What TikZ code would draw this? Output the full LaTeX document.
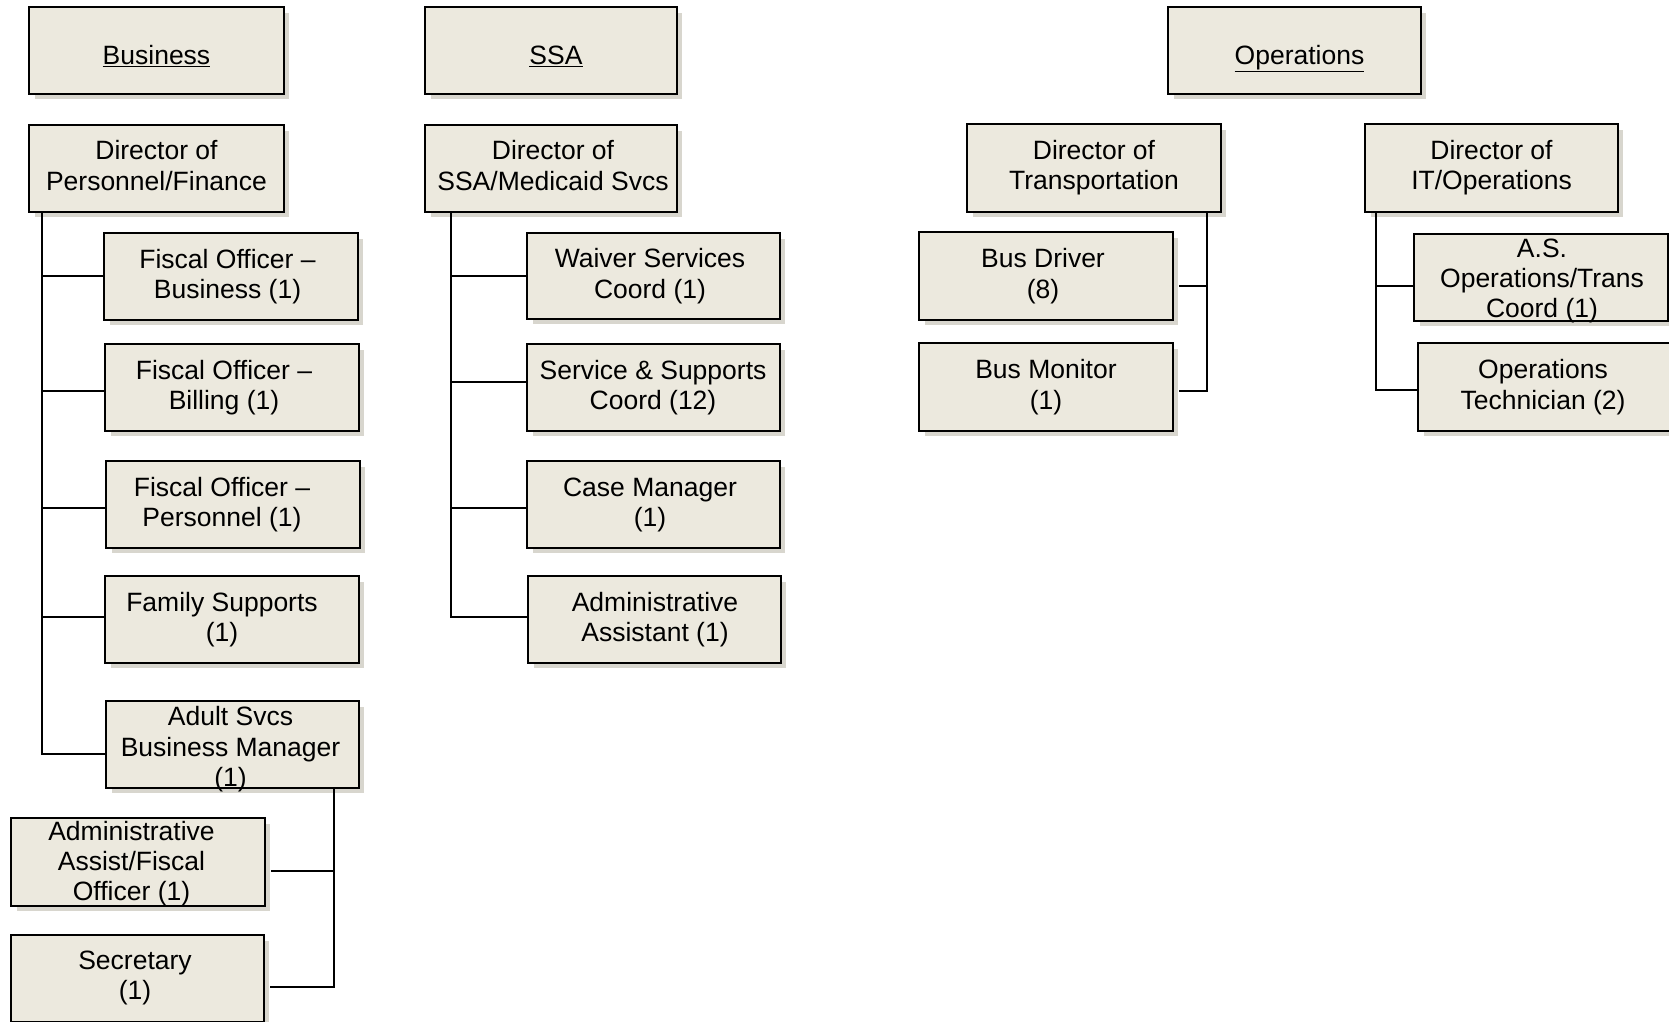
\documentclass[tikz,border=0pt]{standalone}
\usepackage{fontspec}
\setmainfont{Liberation Sans}
\definecolor{boxfill}{RGB}{236,233,222}
\definecolor{shadowc}{RGB}{216,214,206}
\tikzset{
  orgbox/.style={draw=black, line width=2.2pt, fill=boxfill, inner sep=0pt},
  orgtxt/.style={font=\fontsize{26.5}{30.2}\selectfont, align=center, inner sep=0pt,
    execute at begin node=\strut, execute at end node=\strut},
  link/.style={draw=black, line width=2.5pt, line join=miter}
}
\newcommand\obox[7]{% name, x1, y1, x2, y2, text shift options, text
  \fill[shadowc] (#2+6,#3+6) rectangle (#4+5,#5+5);
  \node[orgbox, minimum width={(#4)-(#2)}, minimum height={(#5)-(#3)}] (#1) at ({((#2)+(#4))/2},{((#3)+(#5))/2}) {};
  \node[orgtxt] (#1t) at ([#6]#1.center) {#7};
}
\newcommand\branchR[3]{% vertical-line coordinate, child node, yshift of branch
  \path ([yshift=#3]#2.west) coordinate (#2b);
  \draw[link] (#1 |- #2b) -- (#2b);
}
\newcommand\branchL[3]{%
  \path ([xshift=5pt,yshift=#3]#2.east) coordinate (#2b);
  \draw[link] (#1 |- #2b) -- (#2b);
}
\begin{document}
\begin{tikzpicture}[x=1pt,y=-1pt]
\useasboundingbox (0,0) rectangle (1669,1021);
\fill[white] (0,0) rectangle (1669,1021);
\clip (0,0) rectangle (1669,1021);

% top headers
\obox{bus}{29}{7}{284}{94}{yshift=-8pt}{\underline{Business}}
\obox{ssa}{425}{7}{677}{94}{xshift=5pt,yshift=-8pt}{\underline{SSA}}
\obox{ops}{1168}{7}{1421}{94}{xshift=5pt,yshift=-8pt}{\underline{Operations}}

% directors
\obox{dpf}{29}{125}{284}{212}{yshift=-1.5pt}{Director of\\Personnel/Finance}
\obox{dssa}{425}{125}{677}{212}{xshift=2pt,yshift=-1.5pt}{Director of\\SSA/Medicaid Svcs}
\obox{dtr}{967}{124}{1221}{212}{yshift=-1.5pt}{Director of\\Transportation}
\obox{dit}{1365}{124}{1618}{212}{yshift=-1.5pt}{Director of\\IT/Operations}

% business column
\obox{fob}{104}{233}{358}{320}{xshift=-3.5pt,yshift=-2pt}{Fiscal Officer \textendash\\Business (1)}
\obox{fbi}{105}{344}{359}{431}{xshift=-8pt,yshift=-2pt}{Fiscal Officer \textendash\\Billing (1)}
\obox{fpe}{106}{461}{360}{548}{xshift=-11pt,yshift=-2pt}{Fiscal Officer \textendash\\Personnel (1)}
\obox{fam}{105}{576}{359}{663}{xshift=-10pt,yshift=-2pt}{Family Supports\\(1)}
\obox{adu}{106}{701}{359}{788}{xshift=-2pt,yshift=-6.5pt}{Adult Svcs\\Business Manager\\(1)}
\obox{adm}{11}{818}{265}{906}{xshift=-6.5pt,yshift=-3.5pt}{Administrative\\Assist/Fiscal\\Officer (1)}
\obox{sec}{11}{935}{264}{1022}{xshift=-2.5pt,yshift=-1.5pt}{Secretary\\(1)}

% SSA column
\obox{wai}{527}{233}{780}{319}{xshift=-3.5pt,yshift=-2pt}{Waiver Services\\Coord (1)}
\obox{ser}{527}{344}{780}{431}{xshift=-0.5pt,yshift=-2pt}{Service \& Supports\\Coord (12)}
\obox{cas}{527}{461}{780}{548}{xshift=-3.5pt,yshift=-2pt}{Case Manager\\(1)}
\obox{aas}{528}{576}{781}{663}{xshift=0.5pt,yshift=-2pt}{Administrative\\Assistant (1)}

% transportation
\obox{bdr}{919}{232}{1173}{320}{xshift=-3pt,yshift=-2pt}{Bus Driver\\(8)}
\obox{bmo}{919}{343}{1173}{431}{xshift=0pt,yshift=-2pt}{Bus Monitor\\(1)}

% IT
\obox{aso}{1414}{234}{1668}{321}{xshift=1pt,yshift=-5.5pt}{A.S.\\Operations/Trans\\Coord (1)}
\obox{otc}{1418}{343}{1672}{431}{xshift=-2pt,yshift=-2pt}{Operations\\Technician (2)}

% ---- connectors ----
% business
\coordinate (bv) at ([xshift=14pt]dpf.south west);
\path ([yshift=-9.5pt]adu.west) coordinate (adub);
\draw[link] (bv) |- (adub);
\branchR{bv}{fob}{0.5pt}
\branchR{bv}{fbi}{-3.5pt}
\branchR{bv}{fpe}{-3.5pt}
\branchR{bv}{fam}{2.5pt}

% adult svcs
\coordinate (av) at ([xshift=-26pt]adu.south east);
\path ([xshift=5pt,yshift=-8.5pt]sec.east) coordinate (secb);
\draw[link] (av) |- (secb);
\branchL{av}{adm}{-9pt}

% SSA
\coordinate (sv) at ([xshift=27pt]dssa.south west);
\path ([yshift=2.5pt]aas.west) coordinate (aasb);
\draw[link] (sv) |- (aasb);
\branchR{sv}{wai}{0pt}
\branchR{sv}{ser}{5.5pt}
\branchR{sv}{cas}{-3.5pt}

% transportation
\coordinate (tv) at ([xshift=-15pt]dtr.south east);
\path ([xshift=5pt,yshift=-4pt]bmo.east) coordinate (bmob);
\draw[link] (tv) |- (bmob);
\branchL{tv}{bdr}{-10pt}

% IT
\coordinate (iv) at ([xshift=12pt]dit.south west);
\path ([yshift=-3pt]otc.west) coordinate (otcb);
\draw[link] (iv) |- (otcb);
\branchR{iv}{aso}{-8.5pt}
\end{tikzpicture}
\end{document}
